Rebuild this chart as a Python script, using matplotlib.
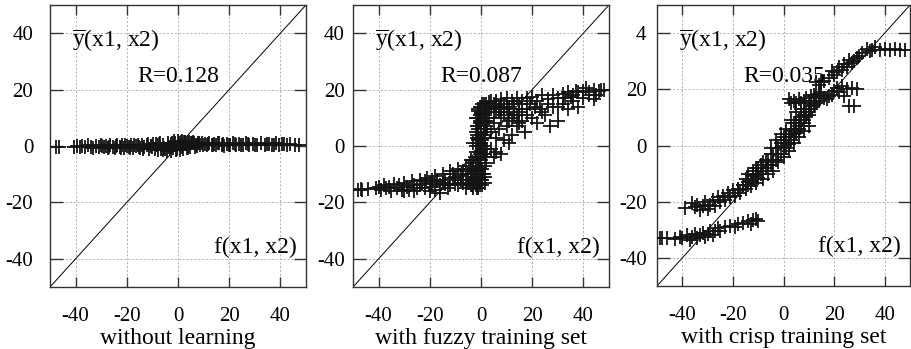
import matplotlib
matplotlib.use("Agg")
import matplotlib.pyplot as plt
import numpy as np

plt.rcParams['font.family'] = ['Liberation Serif', 'DejaVu Serif']
plt.rcParams['mathtext.fontset'] = 'custom'
plt.rcParams['mathtext.rm'] = 'Liberation Serif'
plt.rcParams['mathtext.it'] = 'Liberation Serif:italic'
plt.rcParams['axes.unicode_minus'] = False

# panel 1: without learning (output almost flat around 0)
x_none = [-47.8, -46.6, -40.5, -39.6, -38.4, -37.5, -36.2, -35.1, -34.0, -33.2, -32.1, -31.0,
          -30.2, -29.1, -28.3, -27.2, -26.4, -25.5, -24.6, -23.7, -22.8, -21.9, -21.0, -20.1,
          -19.3, -18.4, -17.5, -16.6, -15.8, -14.9, -14.0, -13.2, -12.3, -11.5, -10.6, -9.8,
          -8.9, -8.1, -7.3, -6.5, -5.7, -4.9, -4.1, -3.3, -2.6, -1.8, -1.1, -0.4, 0.3, 1.0,
          1.7, 2.4, 3.1, 3.9, 4.6, 5.4, 6.2, 7.0, 7.8, 8.7, 9.5, 10.4, 11.3, 12.2, 13.1, 14.0,
          15.0, 16.0, 17.0, 18.1, 19.2, 20.3, 21.5, 22.7, 23.9, 25.2, 26.5, 27.9, 29.3, 30.8,
          32.3, 33.8, 35.4, 36.9, 38.3, 39.4, 40.6, 42.5, 43.6, 45.8, 47.2,
          -6.0, -4.4, -2.9, -1.5, -0.7, 0.0, 0.8, 1.4, 2.1, 2.9, 3.6, 4.3, 5.1, 6.6,
          -29.6, -26.9, -24.1, -22.3, -20.6, -18.8, -17.0, -15.3, -13.6, -11.9, -10.2, -8.5,
          -7.7, -6.9, -5.3, -3.7, -2.2, 0.6, 2.7, 4.0, 5.8, 7.4, 8.3, 9.9, 11.7, 13.5, 15.5,
          17.6, 19.8, 22.1, 24.5, 27.2, 30.1, 34.6, 37.6, 41.5]
y_none = [-0.2, -0.2, -0.3, 0.1, -0.4, 0.0, -0.5, 0.2, -0.3, -0.6, 0.1, -0.4,
          0.2, -0.5, -0.1, -0.6, 0.3, -0.2, -0.7, 0.2, -0.4, 0.3, -0.6, 0.0,
          -0.3, 0.4, -0.7, -0.1, 0.3, -0.8, 0.2, -0.5, 0.5, -0.9, 0.1, 0.6,
          -1.0, 0.3, 0.8, -1.1, 0.5, -0.9, 1.0, -1.2, 0.7, -0.6, 1.2, -1.0, 0.9, 1.3,
          -0.4, 1.4, 0.6, 1.1, -0.2, 0.9, 1.2, 0.2, 1.0, 0.4, 1.1, 0.6, 0.3, 1.0, 0.5, 0.8,
          0.2, 0.9, 0.5, 0.1, 0.8, 0.4, 0.9, 0.2, 0.7, 0.5, 0.9, 0.3, 0.8, 0.4,
          0.9, 0.2, 0.7, 0.5, 0.9, 0.3, 0.6, 0.4, 0.7, 0.3, 0.5,
          -1.4, -1.6, -1.8, 1.6, -1.5, 1.8, -1.3, 1.7, -1.0, 1.5, -0.7, 1.4, 1.2, -0.5,
          -0.1, -0.4, 0.0, -0.6, 0.2, -0.8, 0.4, -0.3, -0.9, 0.6, -0.4, 0.7,
          -1.3, 0.9, -0.8, -0.2, 1.0, 0.4, 1.5, -0.6, 1.3, 0.0, 1.2, 0.3, 0.8, 0.2, 1.0,
          0.6, 0.3, 0.8, 0.2, 0.6, 0.4, 0.7, 0.2, 0.6]

# panel 2: with fuzzy training set
x_fuzzy = [-48, -47, -46.4, -41, -40, -39, -38, -37, -36, -35, -34, -33, -32, -31, -30, -29,
           -28, -27, -26, -25, -24, -23, -22, -21, -20, -19, -18, -17, -16, -15, -14, -13,
           -12, -11, -10, -9, -8, -7, -6, -5, -4, -3, -2, -1.5, -1,
           -2, -1, 0, -0.5, 0.5, -1, 0, 1, -0.5, 0, 0.5, -0.5, 0, 1, -1, 0, 0.5, -0.5, 0, 1,
           0, 0.5, 1.5, -1.5, 1.5, -1.5, 1.5, -1, 2, -2.5, -3, 2.5, 1.8, -1.8,
           2, 3, 4, 5, 6, 7, 8, 9, 10, 11, 12, 13, 14, 15, 16, 18, 20, 22, 24, 26, 28, 30, 32,
           34, 36, 38, 40, 42, 44, 46, 48,
           3, 4, 5, 6, 6, 7, 8, 9, 9, 10, 11, 12, 13, 14, 15, 16, 17, 18, 20, 22, 23, 25, 27,
           28, 30, 32, 34, 36, 38, 40, 42, 44, 6, 5, 4, 8, 11,
           -3.5, -3, -2.5, -2, -1.5, -1, -3.5, -3, -2.5, -2, -1.5, -1, -0.5, 0.5, 1, 1.5, 2,
           -0.5, 0.5, 1, -1, -1.5, 1.5, 2, -1, -0.5, 1, 1.5, -1, 0, 2, -0.5, 1, 1.5, 2.5, 2.5,
           2.5, -2, -2, 0.5,
           3, 4, 5, 6, 7, 8, 9, 10, 11, 12, 13, 14, 15, 16, 18, 19, 21, 24, 26, 30, 35, 45,
           47, 41, 37, 33,
           -20, -18, -16, -14, -12, -10, -9, -8, -7, -6, -5, -4, -26, -30, -24, -22, -19, -15,
           -11, -6, -3, -44,
           -4.5, -4, -4.5, -3.5, -4, -3, -2.5, -1.5, -0.5, 0.5, 1.5, -2, -1, 0, 1, 2, -1.5,
           -0.5, 0.5, 1.5, -1, 0, 1, 2]
y_fuzzy = [-15.5, -15.3, -15.5, -15, -14.5, -15.5, -14, -15, -14.5, -15.8, -13.5, -15, -14,
           -15.5, -13, -14.5, -15.5, -12.5, -14, -15, -12, -13.5, -15, -11.5, -13, -14.5,
           -10.5, -12.5, -14, -10, -12, -15, -9, -11.5, -13.5, -8, -10.5, -13, -7, -10, -14,
           -6, -9, -12, -15,
           -14, -13, -12, -10, -8, -6, -5, -3, -2, 0, 2, 3, 5, 6, 7, 8, 10, 11, 12, 13,
           14, 15, -11, -8, -1, 4, 9, 12.5, 14, -4, 1, 6, -6, 10,
           15, 15.5, 16, 15, 16, 14, 16.5, 15, 17, 14, 16, 13, 17, 15, 16, 17, 17.5, 16, 18,
           16.5, 18, 17, 18.5, 19, 18, 19, 19.5, 19, 20, 19.5, 19.8,
           10, 5, 8, 3, 12, 6, 10, 2, 13, 7, 9, 4, 11, 7, 12, 9, 5, 13, 10, 8, 13, 11, 7,
           14, 9, 15, 13, 16, 14, 17, 18, 16.5, -2, -4, -1, -3, 1,
           -14, -12, -10, -8, -6, -4, -9, -7, -13, -11, -15, -9, -12, -14, -10, -7, -4,
           -6, -3, 0, 1, 3, 3, 6, 6, 8, 9, 11, 10, 11.5, 12, 14, 15, 14, 13, 9,
           -1, 0, 5, -10,
           13, 14, 12, 14.5, 12, 13.5, 11, 14, 12, 10, 15, 11, 8, 13, 11, 15, 14, 12, 15, 14,
           17.5, 18, 20, 20.5, 19.5, 17,
           -16, -15.5, -16.5, -13.5, -14, -11, -14, -12, -9, -12, -13, -8, -16, -16, -14,
           -12.5, -12, -13, -10, -15, -15, -15.3,
           -13, -10, -7, -12, -5, -14, -11, -13, -14, -12, -13, -2, 2, 4, -1, 7, 7,
           9, 11, 4, 13, 1, 5, 10]

# panel 3: with crisp training set
x_crisp = [33, 34, 35, 36, 38, 40, 42, 44, 46, 48, 31, 30,
           29, 28, 27, 26, 25, 24, 23, 22, 21, 20, 19, 18, 16, 15, 14, 13,
           21, 23, 25, 27, 29, 22, 24, 26, 28, 20, 19, 18, 17, 16,
           2, 3, 4, 5, 6, 7, 8, 9, 10, 11, 12, 13, 14, 15,
           -15, -14, -13, -12, -11, -10, -9, -8, -7, -6, -5, -4, -3, -2, -1, 0, 0, 1, 1,
           2, 2, 3, 3, 4, 4, 5, 5, 6, 6, 7, 7, 8, 8, 9, 9, 10, 10, 11, 12,
           -6, -8, -4, -2, 0, 2, 4, 6, 8, 10, -3, -1, 1, 3, 5, 7,
           -9, -7, -5, -3, -1, 1, 3, 5, 7, 9, 11, 12, 13, -12, -10, -8, -6, -4, -2, 0, 2, 4,
           6, 8, 10, 14, -14, -11, -5, 0, 4, 8, -16, -18,
           -39, -36, -35, -34, -33, -32, -31, -30, -29, -28, -27, -26, -25, -24, -23, -22,
           -21, -20, -19, -18, -17, -16, -15, -14, -13, -12, -11, -10,
           -49, -48, -46, -43, -41, -40, -38, -37, -36, -35, -34, -33, -32, -31, -30, -29,
           -28, -27, -26, -25, -23, -21, -19, -18, -16, -14, -13, -12, -11, -10]
y_crisp = [34.5, 33.5, 34, 35, 34, 34.2, 34, 34.3, 34, 34.1, 33, 32,
           31, 30, 29.5, 30.5, 28, 29, 27, 28, 26, 25, 26.5, 24, 23, 22.5, 21.5, 22.5,
           20.5, 21, 20, 20.5, 20, 19, 17.5, 14.2, 14, 19.5, 18, 17.5, 16.5, 17,
           16.5, 15, 16, 15.2, 16.5, 15, 16, 17, 16, 17.5, 18, 17.5, 18.5, 19,
           -12, -10, -12.5, -9, -10.5, -8, -10, -6, -8, -5, -7, -3, -5, -1, -3, 0, 2, 1, -1,
           3, 0.5, 5, 2, 6, 3, 8, 4.5, 9, 6, 10, 7, 11, 8, 12, 10, 13, 11, 14, 14.5,
           -10, -12, -9, -6, -4, -2, 1, 3, 5, 7, 2, 4, 6, 9, 12, 13,
           -7, -5, -3, -1, 1, 3, 4, 6, 9, 11, 13, 16, 15, -11, -10, -9, -7, -5, -3, -1, 1, 4,
           7, 9, 12, 16, -14, -8, -1, 3, 8, 13, -14, -16,
           -22.2, -20.5, -22, -21, -23, -21.5, -20, -22.5, -21, -19.5, -21.5, -18.5, -20, -18,
           -19.5, -17, -18.5, -16, -18, -15.5, -17, -14, -15.5, -13, -14.5, -12, -13.5, -11.5,
           -33, -33, -33, -33.2, -32.5, -33, -32, -33.5, -32.5, -31.5, -33, -32, -31, -32.5,
           -31.5, -30.5, -31.8, -30.5, -29.5, -30.5, -29, -28.5, -29, -28, -27.5, -27, -28,
           -26.5, -26, -27]

panels = [
    (x_none, y_none, 'R=0.128', 'without learning'),
    (x_fuzzy, y_fuzzy, 'R=0.087', 'with fuzzy training set'),
    (x_crisp, y_crisp, 'R=0.035', 'with crisp training set'),
]
ticks = [-40, -20, 0, 20, 40]

W, H = 911, 349
fig = plt.figure(figsize=(W / 100, H / 100), dpi=100)

# axes boxes in pixels: left, top, right, bottom
boxes = [(50, 5, 306, 287), (353, 5, 609, 287), (657, 5, 910, 286)]
ypads = [12, 6, 7.5]

for i, ((xs, ys, rtxt, xlab), box) in enumerate(zip(panels, boxes)):
    l, t, r, b = box
    ax = fig.add_axes([l / W, (H - b) / H, (r - l) / W, (b - t) / H])
    ax.set_xlim(-50, 50)
    ax.set_ylim(-50, 50)
    ax.plot([-50, 50], [-50, 50], color='black', lw=0.7, zorder=2)
    ax.plot(xs, ys, ls='none', marker='+', ms=10.5, mew=1.3, color='#141414', zorder=3)

    ax.set_xticks(ticks)
    ax.set_yticks(ticks)
    if i == 2:
        ax.set_yticklabels(['-40', '-20', '0', '20', '4'])
    ax.grid(True, color='#b0b0b0', ls=(0, (2, 2)), lw=0.7)
    ax.set_axisbelow(True)
    ax.tick_params(axis='both', direction='in', top=True, right=True,
                   labelsize=15, color='#333333', width=1)
    ax.tick_params(axis='y', length=9, pad=ypads[i])
    ax.tick_params(axis='x', length=7.5, pad=14.5)
    for s in ax.spines.values():
        s.set_color('#333333')
        s.set_linewidth(1.0)

    ax.text(-41.5, 37.5, r'$\overline{\mathrm{y}}$(x1, x2)', fontsize=17, va='center', ha='left')
    ax.text(-16, 24.5, rtxt, fontsize=17, va='center', ha='left')
    ax.text(46.5, -36, 'f(x1, x2)', fontsize=17, va='center', ha='right')
    ax.set_xlabel(xlab, fontsize=17, labelpad=1)

fig.savefig('out.png', dpi=100)
